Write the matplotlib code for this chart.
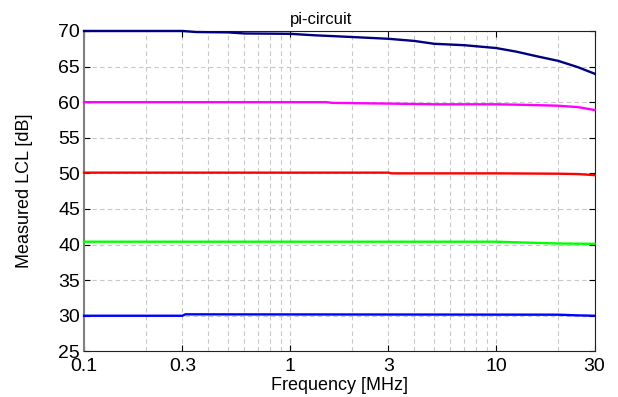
import numpy as np
import matplotlib
matplotlib.use("Agg")
import matplotlib.pyplot as plt
from matplotlib.ticker import FixedLocator, NullFormatter

# ======================================
# DATA
# ======================================

freq_navy = [0.1, 0.3, 0.35, 0.5, 0.6, 1.0, 1.3, 2.0, 3.0, 4.0, 5.0, 7.0, 10.0, 12.5, 16.0, 20.0, 25.0, 30.0]
lcl_navy  = [70.0, 70.0, 69.85, 69.8, 69.65, 69.6, 69.4, 69.15, 68.9, 68.6, 68.2, 68.0, 67.6, 67.1, 66.4, 65.8, 64.9, 64.0]

freq_magenta = [0.1, 1.5, 1.6, 3.0, 5.0, 10.0, 15.0, 20.0, 25.0, 30.0]
lcl_magenta  = [60.0, 60.0, 59.9, 59.8, 59.7, 59.7, 59.6, 59.5, 59.3, 58.9]

freq_red = [0.1, 3.0, 3.1, 10.0, 20.0, 25.0, 30.0]
lcl_red  = [50.1, 50.1, 50.0, 50.0, 49.95, 49.9, 49.75]

freq_green = [0.1, 5.0, 10.0, 13.0, 20.0, 30.0]
lcl_green  = [40.4, 40.4, 40.4, 40.3, 40.15, 40.1]

freq_blue = [0.1, 0.3, 0.31, 20.0, 25.0, 30.0]
lcl_blue  = [30.0, 30.0, 30.2, 30.15, 30.05, 30.0]

series = [
    (freq_navy, lcl_navy, "#000080"),
    (freq_magenta, lcl_magenta, "#ff00ff"),
    (freq_red, lcl_red, "#ff0000"),
    (freq_green, lcl_green, "#00ff00"),
    (freq_blue, lcl_blue, "#0000ff"),
]

x_ticks = [0.1, 0.3, 1, 3, 10, 30]
x_ticklabels = ["0.1", "0.3", "1", "3", "10", "30"]
y_ticks = [25, 30, 35, 40, 45, 50, 55, 60, 65, 70]

# ======================================
# PLOT
# ======================================

plt.rcParams["font.family"] = ["Liberation Sans", "DejaVu Sans"]

fig = plt.figure(figsize=(6.18, 3.97), dpi=100)
ax = fig.add_axes([0.136, 0.115, 0.826, 0.807])

for f, v, c in series:
    ax.plot(f, v, color=c, linewidth=1.7, clip_on=False, zorder=3)

ax.set_xscale("log")
ax.set_xlim(0.1, 30)
ax.set_ylim(25, 70)

ax.xaxis.set_major_locator(FixedLocator(x_ticks))
ax.set_xticklabels(x_ticklabels)
minor = [m * d for d in (0.1, 1, 10) for m in range(2, 10) if m * d < 30 and m * d not in (0.3, 3)]
ax.xaxis.set_minor_locator(FixedLocator(minor))
ax.xaxis.set_minor_formatter(NullFormatter())
ax.set_yticks(y_ticks)

ax.grid(True, which="both", linestyle=(0, (4, 3)), color="#c8c8c8", linewidth=0.8)
ax.tick_params(which="both", direction="in", top=True, right=True, labelsize=14, length=4)
ax.tick_params(axis="y", pad=3)
ax.tick_params(axis="x", pad=5)
ax.tick_params(which="minor", length=0)

for s in ax.spines.values():
    s.set_color("#202020")
ax.spines["left"].set_color("#808080")
ax.spines["left"].set_linewidth(1.5)

ax.text(0.465, 1.012, "pi-circuit", transform=ax.transAxes, ha="center", va="bottom", fontsize=12)
ax.set_xlabel("Frequency [MHz]", fontsize=13, labelpad=1)
ax.set_ylabel("Measured LCL [dB]", fontsize=13, labelpad=18)

fig.savefig("out.png", dpi=100)
